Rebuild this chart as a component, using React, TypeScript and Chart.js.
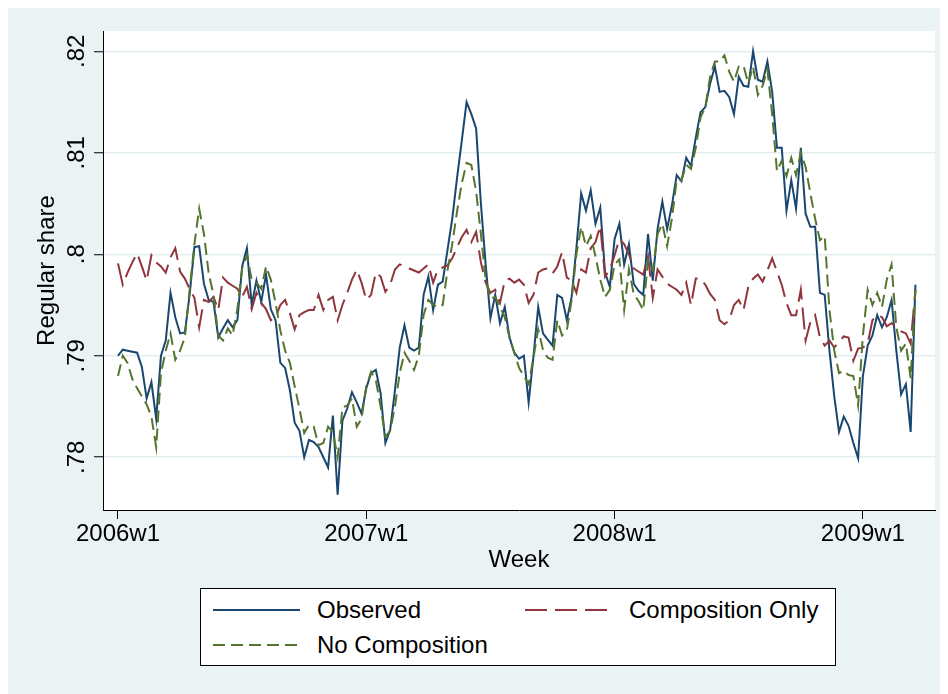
import React, { useEffect, useRef } from "react";
import { Chart, registerables } from "chart.js";

Chart.register(...registerables);

// ---------- data ----------
const weekYears = [2006, 2007, 2008, 2009];
const weeksInYear = [52, 52, 52, 12];
const weekLabels: string[] = [];
weekYears.forEach((yr, k) => {
  for (let w = 1; w <= weeksInYear[k]; w++) weekLabels.push(`${yr}w${w}`);
});

const observed = [
  0.7900, 0.7906, 0.7905, 0.7904, 0.7903, 0.7889, 0.7858, 0.7874, 0.7838, 0.7900,
  0.7915, 0.7962, 0.7938, 0.7922, 0.7923, 0.7960, 0.8007, 0.8008, 0.7971, 0.7955,
  0.7953, 0.7918, 0.7927, 0.7935, 0.7928, 0.7935, 0.7988, 0.8006, 0.7950, 0.7974,
  0.7953, 0.7980, 0.7946, 0.7935, 0.7893, 0.7888, 0.7866, 0.7834, 0.7826, 0.7800,
  0.7817, 0.7815, 0.7810, 0.7800, 0.7790, 0.7841, 0.7763, 0.7836, 0.7848, 0.7864,
  0.7854, 0.7843, 0.7868, 0.7883, 0.7886, 0.7863, 0.7814, 0.7827, 0.7866, 0.7908,
  0.7930, 0.7908, 0.7905, 0.7908, 0.7960, 0.7978, 0.7945, 0.7970, 0.7973, 0.8004,
  0.8035, 0.8075, 0.8112, 0.8150, 0.8138, 0.8124, 0.8050, 0.7990, 0.7937, 0.7960,
  0.7932, 0.7948, 0.7918, 0.7903, 0.7897, 0.7900, 0.7854, 0.7899, 0.7948, 0.7922,
  0.7916, 0.7910, 0.7960, 0.7957, 0.7935, 0.7958, 0.8006, 0.8060, 0.8043, 0.8063,
  0.8030, 0.8046, 0.7982, 0.7968, 0.8015, 0.8030, 0.7990, 0.8010, 0.7971, 0.7964,
  0.7960, 0.8020, 0.7974, 0.8025, 0.8052, 0.8025, 0.8048, 0.8078, 0.8072, 0.8095,
  0.8087, 0.8115, 0.8140, 0.8145, 0.8168, 0.8185, 0.8160, 0.8161, 0.8155, 0.8138,
  0.8175, 0.8166, 0.8165, 0.8200, 0.8172, 0.8170, 0.8190, 0.8160, 0.8105, 0.8105,
  0.8043, 0.8073, 0.8045, 0.8105, 0.8040, 0.8027, 0.8027, 0.7962, 0.7960, 0.7905,
  0.7860, 0.7825, 0.7840, 0.7831, 0.7814, 0.7799, 0.7880, 0.7910, 0.7920, 0.7940,
  0.7928, 0.7938, 0.7955, 0.7905, 0.7862, 0.7872, 0.7825, 0.7970,
];

const compositionOnly = [
  0.7991, 0.7970, 0.7982, 0.7992, 0.8001, 0.7988, 0.7974, 0.7999, 0.7992, 0.7988,
  0.7982, 0.7997, 0.8006, 0.7983, 0.7976, 0.7966, 0.7957, 0.7928, 0.7955, 0.7953,
  0.7958, 0.7945, 0.7977, 0.7972, 0.7969, 0.7966, 0.7958, 0.7968, 0.7946, 0.7962,
  0.7952, 0.7946, 0.7935, 0.7938, 0.7950, 0.7955, 0.7942, 0.7926, 0.7940, 0.7943,
  0.7945, 0.7945, 0.7960, 0.7945, 0.7955, 0.7958, 0.7935, 0.7950, 0.7962, 0.7975,
  0.7985, 0.7972, 0.7955, 0.7960, 0.7982, 0.7978, 0.7963, 0.7970, 0.7985, 0.7990,
  0.7988, 0.7986, 0.7984, 0.7982, 0.7986, 0.7990, 0.7972, 0.7985, 0.7987, 0.7989,
  0.7996, 0.8007, 0.8017, 0.8024, 0.8012, 0.8022, 0.7992, 0.7972, 0.7962, 0.7965,
  0.7952, 0.7974, 0.7976, 0.7972, 0.7975, 0.7970, 0.7952, 0.7960, 0.7982, 0.7985,
  0.7986, 0.7981, 0.7988, 0.8002, 0.7977, 0.7974, 0.7962, 0.7985, 0.7982, 0.8006,
  0.8012, 0.8028, 0.7978, 0.7985, 0.7999, 0.8015, 0.8010, 0.8000, 0.7986, 0.7983,
  0.7980, 0.7998, 0.7957, 0.7985, 0.7978, 0.7971, 0.7968, 0.7965, 0.7960, 0.7972,
  0.7950, 0.7976, 0.7976, 0.7970, 0.7961, 0.7955, 0.7935, 0.7931, 0.7935, 0.7950,
  0.7955, 0.7945, 0.7968, 0.7976, 0.7980, 0.7973, 0.7984, 0.7996, 0.7983, 0.7970,
  0.7952, 0.7940, 0.7940, 0.7965, 0.7915, 0.7933, 0.7940, 0.7918, 0.7910, 0.7915,
  0.7908, 0.7914, 0.7919, 0.7918, 0.7895, 0.7907, 0.7908, 0.7912, 0.7935, 0.7940,
  0.7938, 0.7929, 0.7932, 0.7928, 0.7924, 0.7922, 0.7912, 0.7965,
];

const noComposition = [
  0.7880, 0.7900, 0.7893, 0.7877, 0.7868, 0.7860, 0.7852, 0.7840, 0.7810, 0.7883,
  0.7905, 0.7922, 0.7896, 0.7905, 0.7918, 0.7965, 0.8010, 0.8045, 0.8020, 0.7981,
  0.7960, 0.7920, 0.7915, 0.7927, 0.7920, 0.7946, 0.7986, 0.7999, 0.7975, 0.7972,
  0.7966, 0.7988, 0.7975, 0.7952, 0.7925, 0.7905, 0.7893, 0.7870, 0.7848, 0.7824,
  0.7832, 0.7830, 0.7812, 0.7814, 0.7830, 0.7825, 0.7800, 0.7849, 0.7851, 0.7858,
  0.7830, 0.7838, 0.7870, 0.7884, 0.7876, 0.7850, 0.7820, 0.7826, 0.7850, 0.7883,
  0.7903, 0.7895, 0.7886, 0.7900, 0.7940, 0.7955, 0.7950, 0.7948, 0.7950, 0.7984,
  0.8010, 0.8042, 0.8070, 0.8090, 0.8088, 0.8062, 0.8020, 0.7975, 0.7956, 0.7958,
  0.7948, 0.7938, 0.7918, 0.7903, 0.7888, 0.7880, 0.7872, 0.7898, 0.7926, 0.7906,
  0.7898, 0.7896, 0.7935, 0.7920, 0.7925, 0.7955, 0.8000, 0.8027, 0.8008, 0.8018,
  0.7998, 0.7975, 0.7958, 0.7965, 0.7990, 0.7995, 0.7945, 0.7985, 0.7961, 0.7954,
  0.7945, 0.7994, 0.7984, 0.8020, 0.8030, 0.8008, 0.8035, 0.8073, 0.8073, 0.8088,
  0.8084, 0.8105, 0.8135, 0.8145, 0.8175, 0.8190, 0.8190, 0.8196, 0.8180, 0.8170,
  0.8185, 0.8186, 0.8168, 0.8185, 0.8157, 0.8166, 0.8182, 0.8138, 0.8082, 0.8092,
  0.8077, 0.8095, 0.8078, 0.8100, 0.8086, 0.8060, 0.8035, 0.8014, 0.8018, 0.7945,
  0.7905, 0.7883, 0.7885, 0.7881, 0.7880, 0.7851, 0.7920, 0.7965, 0.7950, 0.7962,
  0.7948, 0.7975, 0.7990, 0.7928, 0.7905, 0.7912, 0.7878, 0.7965,
];

const xTickLabels = ["2006w1", "2007w1", "2008w1", "2009w1"];
const yTickValues = [0.78, 0.79, 0.8, 0.81, 0.82];
const yTickLabels = [".78", ".79", ".8", ".81", ".82"];

// ---------- styles ----------
const FONT = '"Liberation Sans", Arial, Helvetica, sans-serif';
const FONT_SIZE = 24;
const BG = "#eaf2f3";
const NAVY = "#1a476f";
const MAROON = "#90353b";
const GREEN = "#55752f";
const RED_DASH = [22, 8];
const GREEN_DASH = [12, 6];

const xTickPos = xTickLabels.map((l) => weekLabels.indexOf(l));
const toPoints = (arr: number[]) => arr.map((v, i) => ({ x: i, y: v }));

const plotBg = {
  id: "plotBg",
  beforeDraw(chart: any) {
    const { ctx, chartArea: a } = chart;
    ctx.save();
    ctx.fillStyle = "#ffffff";
    ctx.fillRect(a.left, a.top, a.right - a.left, a.bottom - a.top);
    ctx.restore();
  },
};

function LegendKey({ color, dash }: { color: string; dash?: number[] }) {
  return (
    <svg width={87} height={4} style={{ position: "absolute", left: 0, top: 0, display: "block" }}>
      <line
        x1={0}
        y1={2}
        x2={87}
        y2={2}
        stroke={color}
        strokeWidth={2}
        strokeDasharray={dash ? dash.join(" ") : undefined}
      />
    </svg>
  );
}

function LegendItem({ left, cy, color, dash, text }: { left: number; cy: number; color: string; dash?: number[]; text: string }) {
  return (
    <>
      <div style={{ position: "absolute", left, top: cy - 2, width: 87, height: 4 }}>
        <LegendKey color={color} dash={dash} />
      </div>
      <span
        style={{
          position: "absolute",
          left: left + 104,
          top: cy - 14,
          fontSize: FONT_SIZE,
          lineHeight: "28px",
          color: "#000",
          whiteSpace: "nowrap",
        }}
      >
        {text}
      </span>
    </>
  );
}

export default function App() {
  const canvasRef = useRef<HTMLCanvasElement | null>(null);

  useEffect(() => {
    document.documentElement.style.overflow = "hidden";
    document.body.style.overflow = "hidden";
    const canvas = canvasRef.current;
    if (!canvas) return;
    const chart = new Chart(canvas, {
      type: "line",
      data: {
        datasets: [
          {
            label: "Observed",
            data: toPoints(observed),
            borderColor: NAVY,
            borderWidth: 2,
            pointRadius: 0,
            tension: 0,
            fill: false,
            order: 2,
          },
          {
            label: "Composition Only",
            data: toPoints(compositionOnly),
            borderColor: MAROON,
            borderWidth: 2,
            borderDash: RED_DASH,
            pointRadius: 0,
            tension: 0,
            fill: false,
            order: 1,
          },
          {
            label: "No Composition",
            data: toPoints(noComposition),
            borderColor: GREEN,
            borderWidth: 2,
            borderDash: GREEN_DASH,
            pointRadius: 0,
            tension: 0,
            fill: false,
            order: 0,
          },
        ],
      },
      options: {
        animation: false,
        responsive: false,
        maintainAspectRatio: false,
        devicePixelRatio: 1,
        events: [],
        layout: { padding: { left: 0, right: 13, top: 23, bottom: 119 } },
        plugins: {
          legend: { display: false },
          tooltip: { enabled: false },
        },
        scales: {
          x: {
            type: "linear",
            min: -3.14,
            max: 171.1,
            afterBuildTicks: (s: any) => {
              s.ticks = xTickPos.map((v) => ({ value: v }));
            },
            afterFit: (s: any) => {
              s.height = 65;
            },
            ticks: {
              autoSkip: false,
              minRotation: 0,
              maxRotation: 0,
              padding: 1,
              color: "#000",
              font: { family: FONT, size: FONT_SIZE },
              callback: (v: any) => {
                const i = xTickPos.indexOf(Number(v));
                return i >= 0 ? xTickLabels[i] : "";
              },
            },
            grid: {
              drawOnChartArea: false,
              drawTicks: true,
              tickLength: 9,
              tickColor: "#000",
              tickWidth: 1,
            },
            border: { display: true, color: "#000", width: 1 },
            title: {
              display: true,
              text: "Week",
              color: "#000",
              font: { family: FONT, size: FONT_SIZE },
              padding: { top: 0, bottom: 0 },
            },
          },
          y: {
            type: "linear",
            min: 0.7748,
            max: 0.822,
            afterBuildTicks: (s: any) => {
              s.ticks = yTickValues.map((v) => ({ value: v }));
            },
            afterFit: (s: any) => {
              s.width = 95;
            },
            ticks: {
              autoSkip: false,
              minRotation: 90,
              maxRotation: 90,
              crossAlign: "center",
              padding: 0,
              color: "#000",
              font: { family: FONT, size: FONT_SIZE },
              callback: (v: any) => {
                const i = yTickValues.findIndex((t) => Math.abs(t - Number(v)) < 1e-9);
                return i >= 0 ? yTickLabels[i] : "";
              },
            },
            grid: {
              color: "#e4edf0",
              lineWidth: 1.5,
              drawTicks: true,
              tickLength: 9,
              tickColor: "#000",
              tickWidth: 1,
            },
            border: { display: true, color: "#000", width: 1 },
            title: {
              display: true,
              text: "Regular share",
              color: "#000",
              font: { family: FONT, size: FONT_SIZE },
              padding: { top: 25, bottom: 0 },
            },
          },
        },
      } as any,
      plugins: [plotBg],
    });
    return () => chart.destroy();
  }, []);

  return (
    <div
      style={{
        position: "relative",
        width: 940,
        height: 686,
        background: BG,
        fontFamily: FONT,
        overflow: "hidden",
      }}
    >
      <canvas
        ref={canvasRef}
        width={940}
        height={686}
        style={{ position: "absolute", left: 0, top: 0, width: 940, height: 686 }}
      />
      <div
        style={{
          position: "absolute",
          left: 192,
          top: 580,
          width: 636,
          height: 78,
          boxSizing: "border-box",
          border: "1px solid #000",
          background: "#fff",
        }}
      >
        <LegendItem left={12} cy={21} color={NAVY} text="Observed" />
        <LegendItem left={324} cy={21} color={MAROON} dash={RED_DASH} text="Composition Only" />
        <LegendItem left={12} cy={56} color={GREEN} dash={GREEN_DASH} text="No Composition" />
      </div>
    </div>
  );
}
